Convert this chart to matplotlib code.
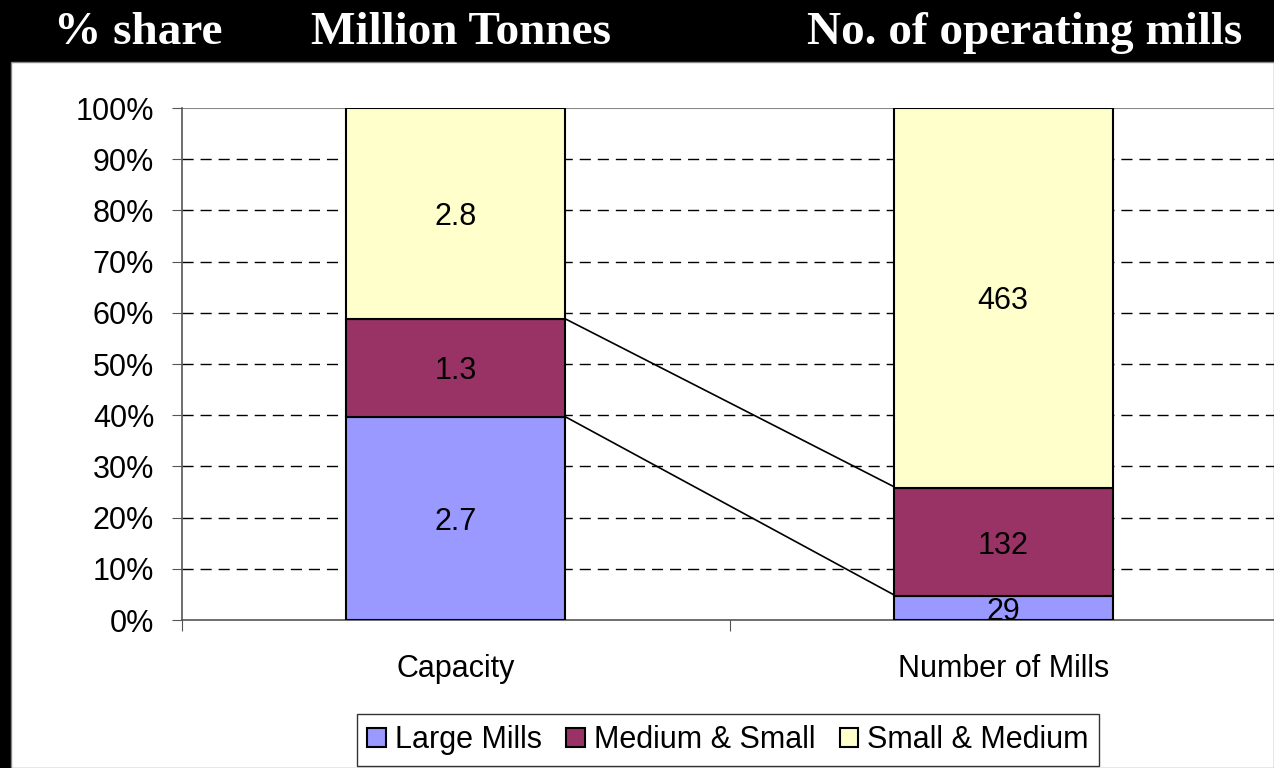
import matplotlib.pyplot as plt
from matplotlib.patches import Rectangle
import numpy as np

categories = ['Capacity', 'Number of Mills']
series_names = ['Large Mills', 'Medium & Small', 'Small & Medium']
capacity = [2.7, 1.3, 2.8]      # million tonnes
mills = [29, 132, 463]          # no. of operating mills
colors = ['#9999FF', '#993366', '#FFFFCC']

W, H = 1274, 768
fig = plt.figure(figsize=(W / 100, H / 100), dpi=100, facecolor='black')

# white panel under the black header band
fig.patches.append(Rectangle((11 / W, 0), 1 - 11 / W, (H - 62) / H,
                             transform=fig.transFigure, facecolor='white',
                             edgecolor='#888888', linewidth=1, zorder=-10))

serif = ['Liberation Serif', 'DejaVu Serif']
sans = ['Liberation Sans', 'DejaVu Sans']
fig.text(138 / W, 1 - 44 / H, '% share', color='white', fontsize=34,
         fontweight='bold', family=serif, ha='center', va='baseline')
fig.text(461 / W, 1 - 44 / H, 'Million Tonnes', color='white', fontsize=34,
         fontweight='bold', family=serif, ha='center', va='baseline')
fig.text(1025 / W, 1 - 44 / H, 'No. of operating mills', color='white', fontsize=34,
         fontweight='bold', family=serif, ha='center', va='baseline')

ax = fig.add_axes([182 / W, (H - 620) / H, (1277 - 182) / W, 512 / H])
ax.set_facecolor('none')

data = np.array([capacity, mills], dtype=float)
shares = data / data.sum(axis=1, keepdims=True) * 100
x = np.arange(len(categories))
width = 0.40

bottoms = np.zeros(len(categories))
for i, name in enumerate(series_names):
    ax.bar(x, shares[:, i], width, bottom=bottoms, color=colors[i],
           edgecolor='black', linewidth=1.5, label=name, zorder=3)
    for j in range(len(categories)):
        v = data[j, i]
        txt = f'{v:.1f}' if j == 0 else f'{int(v)}'
        ax.text(x[j], bottoms[j] + shares[j, i] / 2, txt, ha='center',
                va='center_baseline', fontsize=22, family=sans, zorder=4)
    bottoms = bottoms + shares[:, i]

# series lines between the stacks
cum = np.cumsum(shares, axis=1)
for i in range(len(series_names) - 1):
    ax.plot([x[0] + width / 2, x[1] - width / 2 + 0.01], [cum[0, i], cum[1, i] - 0.3],
            color='black', linewidth=1.2, zorder=2)

ax.set_xlim(-0.5, 1.5)
ax.set_ylim(0, 100)
ax.set_yticks(np.arange(0, 101, 10))
ax.set_yticklabels([f'{t}%' for t in range(0, 101, 10)], fontsize=22, family=sans)
ax.set_xticks([-0.5, 0.5, 1.5])
ax.set_xticklabels([])
ax.tick_params(axis='x', direction='out', length=8, color='#555555')
ax.tick_params(axis='y', direction='out', length=7, color='#555555', pad=13)
for j, c in enumerate(categories):
    ax.text(x[j], -9.6, c, ha='center', va='center', fontsize=22, family=sans)

for t in range(10, 100, 10):
    ax.axhline(t, color='black', linewidth=1, linestyle=(0, (8, 5)), zorder=1)
ax.axhline(100, color='#888888', linewidth=1.5, zorder=1)

for s in ['top', 'right']:
    ax.spines[s].set_visible(False)
ax.spines['left'].set_color('#555555')
ax.spines['bottom'].set_color('#555555')
ax.spines['left'].set_linewidth(1.2)
ax.spines['bottom'].set_linewidth(1.2)

leg = fig.legend(loc='center', bbox_to_anchor=(728 / W, 1 - 740 / H), ncol=3,
                 prop={'family': sans, 'size': 22}, frameon=True, fancybox=False,
                 edgecolor='black', handlelength=0.6, handleheight=0.6,
                 handletextpad=0.3, columnspacing=0.8, borderpad=0.35)
leg.get_frame().set_linewidth(1)

fig.savefig('out.png', dpi=100, facecolor='black')
